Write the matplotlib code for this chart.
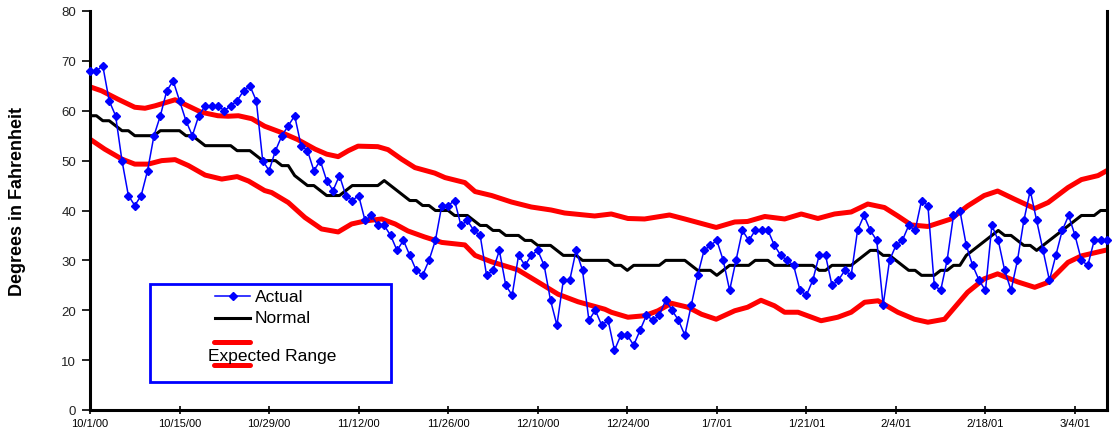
import matplotlib

matplotlib.use("Agg")
import matplotlib.pyplot as plt
from matplotlib.lines import Line2D
from matplotlib.patches import Rectangle
import numpy as np

plt.rcParams["font.family"] = ["Liberation Sans", "DejaVu Sans"]

# daily values from 10/1/00 through 3/9/01 (day 0 = 10/1/00)
actual = [68, 68, 69, 62, 59, 50, 43, 41, 43, 48, 55, 59, 64, 66, 62, 58, 55, 59, 61, 61,
          61, 60, 61, 62, 64, 65, 62, 50, 48, 52, 55, 57, 59, 53, 52, 48, 50, 46, 44, 47,
          43, 42, 43, 38, 39, 37, 37, 35, 32, 34, 31, 28, 27, 30, 34, 41, 41, 42, 37, 38,
          36, 35, 27, 28, 32, 25, 23, 31, 29, 31, 32, 29, 22, 17, 26, 26, 32, 28, 18, 20,
          17, 18, 12, 15, 15, 13, 16, 19, 18, 19, 22, 20, 18, 15, 21, 27, 32, 33, 34, 30,
          24, 30, 36, 34, 36, 36, 36, 33, 31, 30, 29, 24, 23, 26, 31, 31, 25, 26, 28, 27,
          36, 39, 36, 34, 21, 30, 33, 34, 37, 36, 42, 41, 25, 24, 30, 39, 40, 33, 29, 26,
          24, 37, 34, 28, 24, 30, 38, 44, 38, 32, 26, 31, 36, 39, 35, 30, 29, 34, 34, 34]

normal = [59, 59, 58, 58, 57, 56, 56, 55, 55, 55, 55, 56, 56, 56, 56, 55, 55, 54, 53, 53,
          53, 53, 53, 52, 52, 52, 51, 50, 50, 50, 49, 49, 47, 46, 45, 45, 44, 43, 43, 43,
          44, 45, 45, 45, 45, 45, 46, 45, 44, 43, 42, 42, 41, 41, 40, 40, 40, 39, 39, 39,
          38, 37, 37, 36, 36, 35, 35, 35, 34, 34, 33, 33, 33, 32, 31, 31, 31, 30, 30, 30,
          30, 30, 29, 29, 28, 29, 29, 29, 29, 29, 30, 30, 30, 30, 29, 28, 28, 28, 27, 28,
          29, 29, 29, 29, 30, 30, 30, 29, 29, 29, 29, 29, 29, 29, 28, 28, 29, 29, 29, 29,
          30, 31, 32, 32, 31, 31, 30, 29, 28, 28, 27, 27, 27, 28, 28, 29, 29, 31, 32, 33,
          34, 35, 36, 35, 35, 34, 33, 33, 32, 33, 34, 35, 36, 37, 38, 39, 39, 39, 40, 40]

# expected range edges (day offset, degrees)
upper_days = [0, 1.8, 4.4, 7, 8.6, 10.2, 13.3, 14.8, 17.4, 20, 21.6, 23.2, 25.3, 27.3, 30,
              32.5, 35.2, 37, 38.8, 40.4, 41.9, 45, 46.6, 48.7, 50.8, 53.9, 55.5, 58.6,
              60.2, 62.8, 65.9, 69, 72.1, 74.2, 77.3, 78.9, 81.5, 84.1, 86.7, 90.6, 93,
              97.9, 100.8, 102.8, 105.5, 108.6, 111.2, 113.8, 116.4, 119, 121.6, 124.2,
              126.3, 128.4, 131, 134.6, 137.2, 139.8, 141.9, 144.5, 147.7, 149.8, 152.9,
              155, 157.6, 159]
upper_vals = [64.8, 64, 62.3, 60.7, 60.5, 61, 62.2, 61.3, 59.7, 59, 58.9, 59, 58.4, 56.9,
              55.6, 54.2, 52.3, 51.3, 50.8, 52, 52.9, 52.8, 52.2, 50.3, 48.6, 47.5, 46.6,
              45.6, 43.8, 43, 41.7, 40.7, 40.1, 39.5, 39.1, 38.9, 39.3, 38.4, 38.3, 39.1,
              38.3, 36.6, 37.7, 37.8, 38.8, 38.3, 39.3, 38.4, 39.3, 39.7, 41.3, 40.6, 38.9,
              37.1, 36.8, 38.3, 40.9, 43, 43.9, 42.3, 40.4, 41.6, 44.6, 46.2, 47, 48]
lower_days = [0, 2.3, 5, 7, 9.1, 11.2, 13.3, 15.4, 18, 20.6, 23, 24.8, 27.3, 28.4, 31,
              33.6, 36.2, 38.8, 40.9, 43, 45.6, 47.7, 49.7, 52.3, 55, 58.6, 60.2, 62.8,
              66.9, 70, 73.2, 76.3, 80.5, 81.5, 84.1, 86.7, 88.8, 90.9, 93.5, 95.6, 97.9,
              100.8, 102.8, 104.9, 107, 108.6, 110.7, 114.3, 116.9, 119, 121.1, 123.2,
              126.3, 128.9, 131, 133.6, 134.6, 137.2, 139.8, 141.9, 145, 147.7, 149.8,
              152.9, 155, 159]
lower_vals = [54.3, 52.3, 50.3, 49.3, 49.3, 50, 50.2, 49, 47.1, 46.3, 46.8, 45.9, 44, 43.6,
              41.6, 38.6, 36.3, 35.7, 37.3, 37.9, 38.3, 37.3, 35.9, 34.7, 33.6, 33.1, 31,
              29.7, 28.1, 25.7, 23.2, 21.7, 20.2, 19.6, 18.6, 18.9, 19.9, 21.4, 20.6, 19.2,
              18.2, 19.9, 20.6, 22, 20.9, 19.6, 19.6, 17.9, 18.6, 19.6, 21.6, 21.9, 19.6,
              18.2, 17.6, 18.2, 19.7, 23.6, 26.3, 27.3, 25.7, 24.6, 25.6, 29.6, 30.9, 32.1]

date_labels = ["10/1/00", "10/15/00", "10/29/00", "11/12/00", "11/26/00", "12/10/00",
               "12/24/00", "1/7/01", "1/21/01", "2/4/01", "2/18/01", "3/4/01"]

W, H = 1115, 435
fig = plt.figure(figsize=(W / 100, H / 100), dpi=100)
ax = fig.add_axes([90 / W, 1 - 411 / H, (1107 - 90) / W, (411 - 12) / H])

days = np.arange(len(actual))
red = "#ff0000"
blue = "#0000ff"
ax.plot(upper_days, upper_vals, color=red, lw=3.6, solid_capstyle="round", zorder=2)
ax.plot(lower_days, lower_vals, color=red, lw=3.6, solid_capstyle="round", zorder=2)
ax.plot(days, normal, color="black", lw=2.2, zorder=3)
ax.plot(days, actual, color=blue, lw=1.1, marker="D", ms=4.5,
        mec=blue, mfc=blue, zorder=4, clip_on=False)

ax.set_xlim(0, len(actual) - 1)
ax.set_ylim(0, 80)
ax.set_yticks(np.arange(0, 81, 10))
ax.set_xticks(np.arange(len(date_labels)) * 14)
ax.set_xticklabels(date_labels)

for s in ("left", "bottom", "right"):
    ax.spines[s].set_linewidth(2.2)
ax.spines["top"].set_visible(False)
ax.tick_params(axis="x", direction="inout", length=6, width=1.2, labelsize=8, pad=3)
ax.tick_params(axis="y", direction="out", length=6, width=1.2, labelsize=9.5, pad=4)
for lab in ax.get_yticklabels():
    lab.set_color("#222222")

fig.text(18 / W, 1 - 201 / H, "Degrees in Fahrenheit", rotation=90, ha="center",
         va="center", fontsize=13, fontweight="bold")


# legend drawn by hand to match the odd Excel layout
def fx(x):
    return x / W


def fy(y):
    return 1 - y / H


fig.add_artist(Rectangle((fx(150), fy(383)), fx(391) - fx(150), fy(285) - fy(383),
                         transform=fig.transFigure, facecolor="white",
                         edgecolor=blue, lw=2.0, zorder=10))
fig.add_artist(Line2D([fx(215), fx(250)], [fy(297), fy(297)], color=blue, lw=1.1,
                      transform=fig.transFigure, zorder=11))
fig.add_artist(Line2D([fx(233)], [fy(297)], color=blue, marker="D", ms=4.5,
                      transform=fig.transFigure, zorder=11))
fig.add_artist(Line2D([fx(215), fx(250)], [fy(319), fy(319)], color="black", lw=2.2,
                      transform=fig.transFigure, zorder=11))
for yy in (343, 366):
    fig.add_artist(Line2D([fx(214), fx(250)], [fy(yy), fy(yy)], color=red, lw=3.6,
                          solid_capstyle="round", transform=fig.transFigure, zorder=11))
fig.text(fx(255), fy(297), "Actual", fontsize=12.5, va="center", ha="left", zorder=12)
fig.text(fx(255), fy(319), "Normal", fontsize=12.5, va="center", ha="left", zorder=12)
fig.text(fx(208), fy(357), "Expected Range", fontsize=12.5, va="center", ha="left", zorder=12)

fig.savefig("out.png", dpi=100)
